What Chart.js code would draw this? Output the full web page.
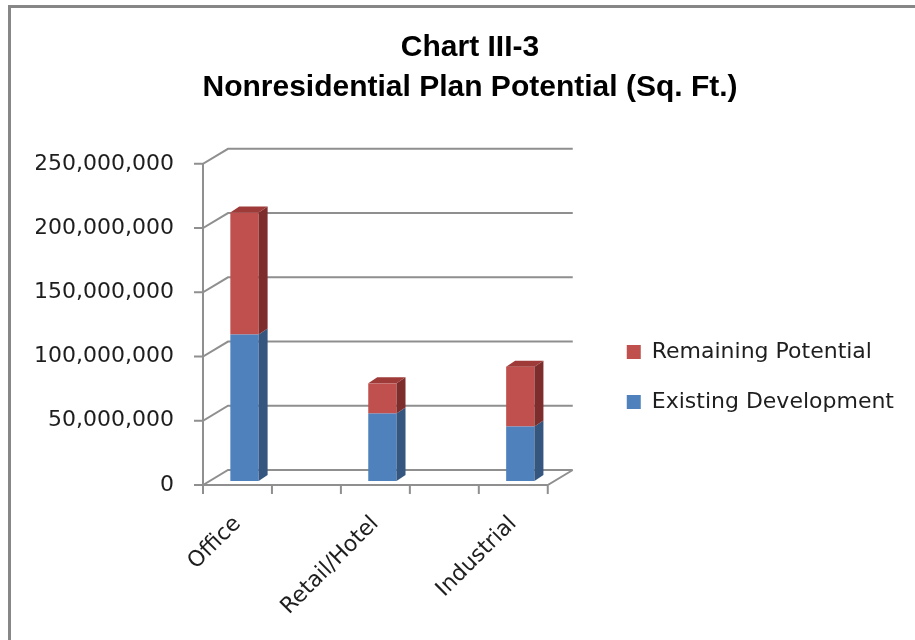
<!DOCTYPE html>
<html>
<head>
<meta charset="utf-8">
<script src="https://cdn.jsdelivr.net/npm/chart.js@4.4.1/dist/chart.umd.min.js"></script>
<style>
html, body { margin: 0; padding: 0; background: #ffffff; }
#wrap { width: 915px; height: 640px; }
</style>
</head>
<body>
<div id="wrap"><canvas id="c" width="915" height="640"></canvas></div>
<script>
// ---- data ----
const chartTitle = ['Chart III-3', 'Nonresidential Plan Potential (Sq. Ft.)'];
const categories = ['Office', '', 'Retail/Hotel', '', 'Industrial'];
const seriesNames = ['Existing Development', 'Remaining Potential'];
const existingDevelopment = [114000000, null, 52500000, null, 42500000];
const remainingPotential = [95000000, null, 23500000, null, 46500000];
const yTickValues = [0, 50000000, 100000000, 150000000, 200000000, 250000000];

// ---- style ----
const WALL_DEPTH = { dx: 25, dy: -15 };
const BAR_SHIFT = { dx: 7, dy: -4 };
const BAR_DEPTH = { dx: 9, dy: -6 };
const GRID_COLOR = '#8f8f8f';
const TEXT_COLOR = '#1e1e1e';

const threeD = {
  id: 'threeD',
  beforeDraw(chart) {
    const { ctx, width, height } = chart;
    ctx.save();
    ctx.fillStyle = '#ffffff';
    ctx.fillRect(0, 0, width, height);
    ctx.strokeStyle = '#878787';
    ctx.lineWidth = 3;
    ctx.strokeRect(9.5, 6.5, width + 40, height + 40);
    ctx.restore();
  },
  afterLayout(chart) {
    const lg = chart.legend;
    if (lg) {
      const h = lg.height;
      lg.top = 313;
      lg.bottom = lg.top + h;
    }
  },
  beforeDatasetsDraw(chart) {
    const { ctx, chartArea: a, scales: { x, y } } = chart;
    ctx.save();
    ctx.strokeStyle = GRID_COLOR;
    ctx.lineWidth = 2;
    ctx.beginPath();
    y.ticks.forEach(t => {
      const py = y.getPixelForValue(t.value);
      ctx.moveTo(a.left - 9, py);
      ctx.lineTo(a.left, py);
      ctx.lineTo(a.left + WALL_DEPTH.dx, py + WALL_DEPTH.dy);
      ctx.lineTo(a.right + WALL_DEPTH.dx, py + WALL_DEPTH.dy);
    });
    const y0 = y.getPixelForValue(0);
    ctx.moveTo(a.left, y.getPixelForValue(y.max));
    ctx.lineTo(a.left, y0 + 9);
    ctx.moveTo(a.left, y0);
    ctx.lineTo(a.right, y0);
    ctx.lineTo(a.right + WALL_DEPTH.dx, y0 + WALL_DEPTH.dy);
    for (let i = 0; i <= categories.length; i++) {
      const px = x.getPixelForValue(i - 0.5);
      ctx.moveTo(px, y0);
      ctx.lineTo(px, y0 + 9);
    }
    ctx.stroke();
    ctx.restore();
    ctx.save();
    ctx.translate(BAR_SHIFT.dx, BAR_SHIFT.dy);
  },
  afterDatasetsDraw(chart) {
    const { ctx } = chart;
    const metas = chart.getSortedVisibleDatasetMetas();
    const poly = (pts, color) => {
      ctx.beginPath();
      ctx.moveTo(pts[0][0], pts[0][1]);
      for (let k = 1; k < pts.length; k++) ctx.lineTo(pts[k][0], pts[k][1]);
      ctx.closePath();
      ctx.fillStyle = color;
      ctx.fill();
    };
    for (let i = 0; i < categories.length; i++) {
      let topBar = null;
      metas.forEach(meta => {
        const ds = chart.data.datasets[meta.index];
        if (ds.data[i] == null) return;
        const el = meta.data[i];
        const { x: cx, y: top, base, width: w } = el.getProps(['x', 'y', 'base', 'width'], true);
        const xr = cx + w / 2;
        poly([[xr, top], [xr + BAR_DEPTH.dx, top + BAR_DEPTH.dy],
              [xr + BAR_DEPTH.dx, base + BAR_DEPTH.dy], [xr, base]], ds.sideColor);
        topBar = { cx, top, w, color: ds.topColor };
      });
      if (topBar) {
        const xl = topBar.cx - topBar.w / 2, xr = topBar.cx + topBar.w / 2, t = topBar.top;
        poly([[xl, t], [xl + BAR_DEPTH.dx, t + BAR_DEPTH.dy],
              [xr + BAR_DEPTH.dx, t + BAR_DEPTH.dy], [xr, t]], topBar.color);
      }
    }
    ctx.restore();
  }
};

new Chart(document.getElementById('c'), {
  type: 'bar',
  data: {
    labels: categories,
    datasets: [
      {
        label: seriesNames[0],
        data: existingDevelopment,
        backgroundColor: '#4f81bd',
        sideColor: '#35577f',
        topColor: '#6a94c8',
        borderWidth: 0,
        clip: false,
        barPercentage: 0.41,
        categoryPercentage: 1.0
      },
      {
        label: seriesNames[1],
        data: remainingPotential,
        backgroundColor: '#c0504d',
        sideColor: '#7d2e2c',
        topColor: '#9e3b38',
        borderWidth: 0,
        clip: false,
        barPercentage: 0.41,
        categoryPercentage: 1.0
      }
    ]
  },
  options: {
    responsive: false,
    animation: false,
    devicePixelRatio: 1,
    layout: { padding: { left: 36, right: 11, top: 0, bottom: 0 } },
    scales: {
      x: {
        stacked: true,
        grid: { display: false, drawTicks: false },
        border: { display: false },
        ticks: {
          autoSkip: false,
          minRotation: 45,
          maxRotation: 45,
          padding: 26,
          color: TEXT_COLOR,
          font: { family: 'DejaVu Sans', size: 22 }
        },
        afterFit(s) { s.height = 155; }
      },
      y: {
        stacked: true,
        min: 0,
        max: 250000000,
        grid: { display: false, drawTicks: false },
        border: { display: false },
        afterBuildTicks(s) { s.ticks = yTickValues.map(v => ({ value: v })); },
        ticks: {
          padding: 29,
          color: TEXT_COLOR,
          font: { family: 'DejaVu Sans', size: 22 },
          callback: v => Number(v).toLocaleString('en-US')
        },
        afterFit(s) { s.width = 167; }
      },
      y2: {
        position: 'right',
        display: true,
        grid: { display: false, drawTicks: false },
        border: { display: false },
        ticks: { display: false },
        afterFit(s) { s.width = 51; }
      }
    },
    plugins: {
      title: {
        display: true,
        text: chartTitle,
        color: '#000000',
        font: { family: 'Liberation Sans', size: 30, weight: 'bold', lineHeight: 1.33 },
        padding: { top: 28, bottom: 56 }
      },
      legend: {
        position: 'right',
        align: 'start',
        reverse: true,
        maxWidth: 340,
        labels: {
          boxWidth: 14,
          boxHeight: 14,
          padding: 28,
          color: TEXT_COLOR,
          font: { family: 'DejaVu Sans', size: 22 }
        }
      },
      tooltip: { enabled: false }
    }
  },
  plugins: [threeD]
});
</script>
</body>
</html>
